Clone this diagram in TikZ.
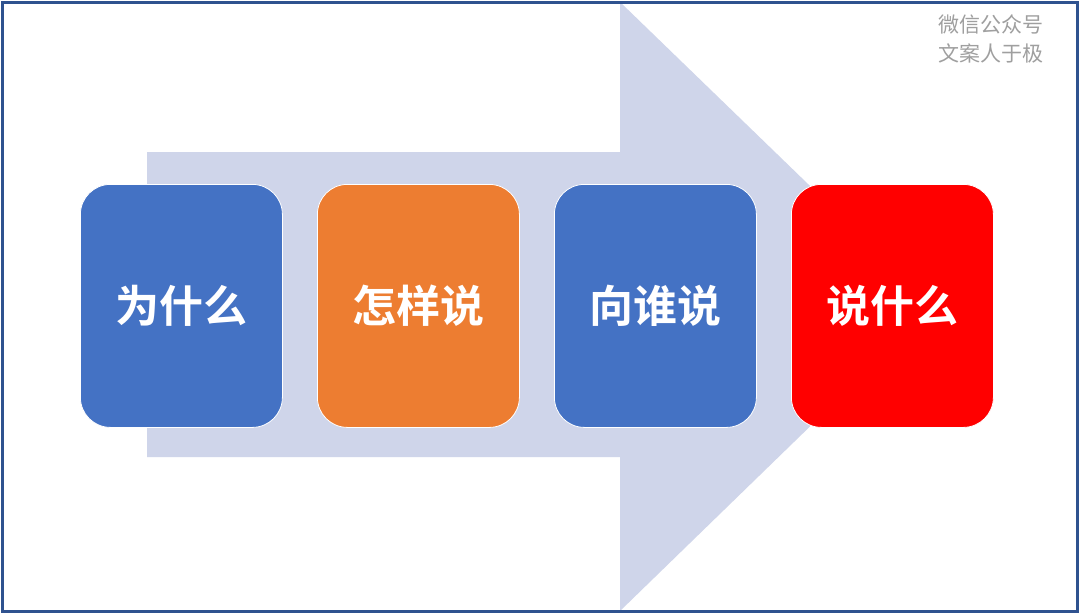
\documentclass[tikz,border=0pt]{standalone}
\usepackage{fontspec}
\newfontfamily\cjk{Noto Sans CJK SC}
\newfontfamily\cjkb{Noto Sans CJK SC Bold}
\begin{document}
\begin{tikzpicture}[x=1pt,y=-1pt,
  card/.style={draw=white,line width=0.8pt,rounded corners=30pt,minimum width=202pt,minimum height=243pt,anchor=north west,inner sep=0pt,text=white,font=\cjkb\fontsize{44}{48}\selectfont},
  wm/.style={text=gray!75,font=\cjk\fontsize{21}{24}\selectfont,anchor=west,inner sep=0pt}]
\useasboundingbox (0,0) rectangle (1080,614);
\fill[white] (0,0) rectangle (1080,614);
\fill[fill={rgb,255:red,207;green,213;blue,234}] (147,152) -- (620,152) -- (620,2) -- (934,306) -- (620,611) -- (620,457) -- (147,457) -- cycle;
\draw[draw={rgb,255:red,47;green,82;blue,143},line width=3pt] (2,2) rectangle (1077,611);
\node[card,fill={rgb,255:red,68;green,114;blue,196}] (a) at (80,184) {为什么};
\node[card,fill={rgb,255:red,237;green,125;blue,49}] (b) at (317,184) {怎样说};
\node[card,fill={rgb,255:red,68;green,114;blue,196}] (c) at (554,184) {向谁说};
\node[card,fill={rgb,255:red,255;green,0;blue,0}] (d) at (791,184) {说什么};
\node[wm] (w1) at (938,24) {微信公众号};
\node[wm] (w2) at (938,53) {文案人于极};
\end{tikzpicture}
\end{document}
